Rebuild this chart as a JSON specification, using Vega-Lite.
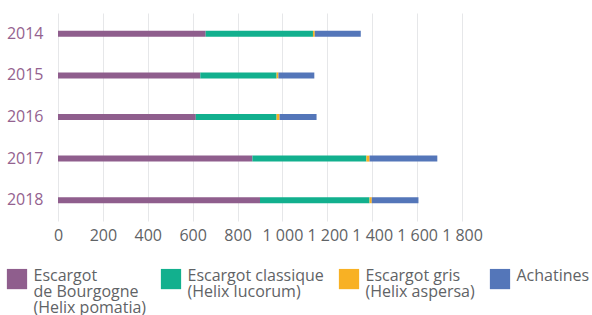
{
  "$schema": "https://vega.github.io/schema/vega-lite/v6.json",
  "width": 404,
  "height": 208,
  "autosize": {"type": "none"},
  "padding": {"left": 58, "top": 13, "right": 130, "bottom": 94},
  "config": {"font": "Open Sans", "view": {"stroke": null}},
  "data": {
    "values": [
      {"year": "2014", "species": "Escargot|de Bourgogne|(Helix pomatia)", "k": 1, "value": 658},
      {"year": "2014", "species": "Escargot classique|(Helix lucorum)", "k": 2, "value": 478},
      {"year": "2014", "species": "Escargot gris|(Helix aspersa)", "k": 3, "value": 8},
      {"year": "2014", "species": "Achatines", "k": 4, "value": 205},
      {"year": "2015", "species": "Escargot|de Bourgogne|(Helix pomatia)", "k": 1, "value": 634},
      {"year": "2015", "species": "Escargot classique|(Helix lucorum)", "k": 2, "value": 340},
      {"year": "2015", "species": "Escargot gris|(Helix aspersa)", "k": 3, "value": 8},
      {"year": "2015", "species": "Achatines", "k": 4, "value": 160},
      {"year": "2016", "species": "Escargot|de Bourgogne|(Helix pomatia)", "k": 1, "value": 614},
      {"year": "2016", "species": "Escargot classique|(Helix lucorum)", "k": 2, "value": 360},
      {"year": "2016", "species": "Escargot gris|(Helix aspersa)", "k": 3, "value": 13},
      {"year": "2016", "species": "Achatines", "k": 4, "value": 165},
      {"year": "2017", "species": "Escargot|de Bourgogne|(Helix pomatia)", "k": 1, "value": 866},
      {"year": "2017", "species": "Escargot classique|(Helix lucorum)", "k": 2, "value": 508},
      {"year": "2017", "species": "Escargot gris|(Helix aspersa)", "k": 3, "value": 14},
      {"year": "2017", "species": "Achatines", "k": 4, "value": 302},
      {"year": "2018", "species": "Escargot|de Bourgogne|(Helix pomatia)", "k": 1, "value": 900},
      {"year": "2018", "species": "Escargot classique|(Helix lucorum)", "k": 2, "value": 488},
      {"year": "2018", "species": "Escargot gris|(Helix aspersa)", "k": 3, "value": 10},
      {"year": "2018", "species": "Achatines", "k": 4, "value": 208}
    ]
  },
  "mark": {"type": "bar", "size": 6},
  "encoding": {
    "y": {
      "field": "year",
      "type": "ordinal",
      "scale": {"paddingInner": 0, "paddingOuter": 0},
      "axis": {"title": null, "domain": false, "ticks": false, "grid": false, "labelPadding": 15, "labelFontSize": 16, "labelColor": "#94628f"}
    },
    "x": {
      "field": "value",
      "type": "quantitative",
      "stack": "zero",
      "scale": {"domain": [0, 1800], "nice": false},
      "axis": {
        "title": null,
        "values": [0, 200, 400, 600, 800, 1000, 1200, 1400, 1600, 1800],
        "labelExpr": "replace(format(datum.value, ','), ',', ' ')",
        "labelOverlap": false,
        "labelBound": false,
        "labelFlush": false,
        "domain": false,
        "ticks": false,
        "grid": true,
        "gridColor": "#e6e7e9",
        "labelPadding": 6,
        "labelFontSize": 16,
        "labelColor": "#5f6366"
      }
    },
    "color": {
      "field": "species",
      "type": "nominal",
      "sort": null,
      "scale": {
        "domain": ["Escargot|de Bourgogne|(Helix pomatia)", "Escargot classique|(Helix lucorum)", "Escargot gris|(Helix aspersa)", "Achatines"],
        "range": ["#8f5e8d", "#12b08e", "#f8b124", "#5476b9"]
      },
      "legend": {
        "title": null,
        "orient": "none",
        "legendX": -51.5,
        "legendY": 255.3,
        "direction": "horizontal",
        "columns": 4,
        "symbolType": "square",
        "symbolSize": 410,
        "symbolStrokeWidth": 0,
        "symbolOpacity": 1,
        "labelFontSize": 16,
        "labelColor": "#5f6366",
        "labelOffset": 6,
        "labelLimit": 300,
        "labelBaseline": "top",
        "columnPadding": 14,
        "labelExpr": "split(datum.label + (length(split(datum.label, '|')) == 1 ? '| | ' : (length(split(datum.label, '|')) == 2 ? '| ' : '')), '|')",
        "encode": {"labels": {"update": {"dy": {"value": -11}, "lineHeight": {"value": 16}}}}
      }
    },
    "order": {"field": "k"}
  }
}
